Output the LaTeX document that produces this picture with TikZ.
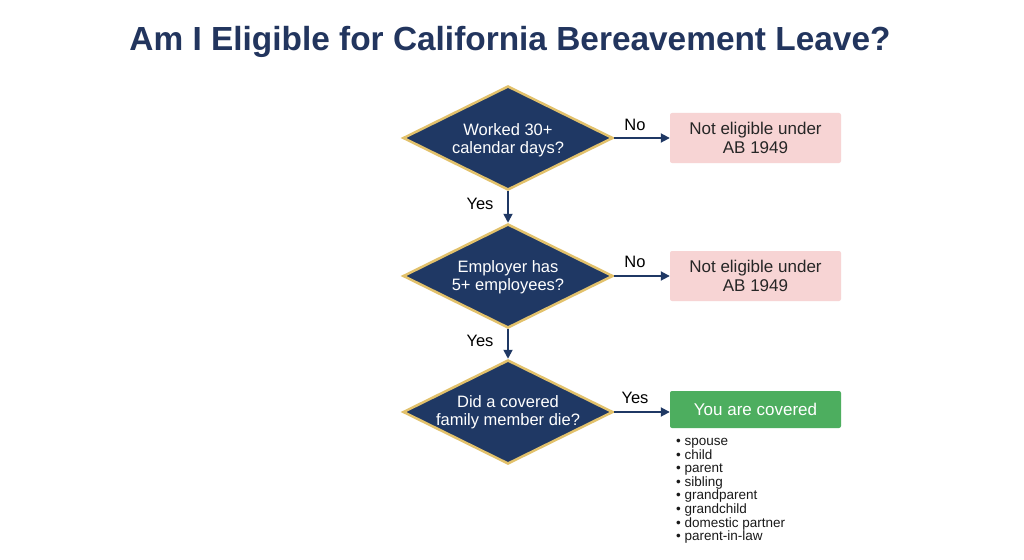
\documentclass[tikz,border=0pt]{standalone}
\usepackage{fontspec}
\setmainfont{Liberation Sans}
\usetikzlibrary{shapes.geometric,arrows.meta}
\definecolor{navy}{HTML}{1F3864}
\definecolor{gold}{HTML}{E2C16B}
\definecolor{pinkbox}{HTML}{F7D4D4}
\definecolor{greenbox}{HTML}{4DAE5F}
\definecolor{titlec}{HTML}{22355E}
\begin{document}
\begin{tikzpicture}[x=1pt,y=-1pt,
  decision/.style={diamond,draw=gold,line width=2.5pt,fill=navy,minimum width=210pt,minimum height=104pt,aspect=2.02,inner sep=0pt,text=white,font=\fontsize{16.5}{18.5}\selectfont,align=center},
  dtext/.style={text=white,font=\fontsize{16.5}{18.5}\selectfont,align=center},
  nobox/.style={rectangle,rounded corners=2pt,fill=pinkbox,minimum width=171pt,minimum height=50pt,text=black!85,font=\fontsize{17}{18.5}\selectfont,align=center},
  yesbox/.style={rectangle,rounded corners=2pt,fill=greenbox,minimum width=171pt,minimum height=37pt,text=white,font=\fontsize{17}{18}\selectfont,align=center},
  flow/.style={draw=navy,line width=1.8pt,-{Triangle[length=9pt,width=9pt]}},
  lbl/.style={font=\fontsize{16.5}{18}\selectfont,text=black},
  listtxt/.style={font=\fontsize{13.5}{13.6}\selectfont,align=left,text=black!90,anchor=north west,inner sep=0pt}]
\useasboundingbox (0,0) rectangle (1024,559);
\fill[white] (0,0) rectangle (1024,559);
\node[font=\bfseries\fontsize{33.4}{38}\selectfont,text=titlec] (title) at (510,42) {Am I Eligible for California Bereavement Leave?};

\node[decision] (d1) at (508,138) {};
\node[decision] (d2) at (508,276) {};
\node[decision] (d3) at (508,412) {};
\node[dtext] (t1) at (508,140) {Worked 30+\\calendar days?};
\node[dtext] (t2) at (508,277) {Employer has\\5+ employees?};
\node[dtext] (t3) at (508,412) {Did a covered\\family member die?};

\node[nobox] (n1) at (755.5,138) {Not eligible under\\AB 1949};
\node[nobox] (n2) at (755.5,276) {Not eligible under\\AB 1949};
\node[yesbox] (y3) at (755.5,409.5) {You are covered};

\draw[flow] (d1.east) -- (n1.west);
\draw[flow] (d2.east) -- (n2.west);
\draw[flow] (d3.east) -- (d3.east -| y3.west);
\draw[flow] (d1.south) -- (d2.north);
\draw[flow] (d2.south) -- (d3.north);

\node[lbl] (l1) at (635,125) {No};
\node[lbl] (l2) at (635,262) {No};
\node[lbl] (l3) at (635,398) {Yes};
\node[lbl] (l4) at (480,204) {Yes};
\node[lbl] (l5) at (480,341) {Yes};

\node[listtxt] (list) at (676,438) {\textbullet\ spouse\\ \textbullet\ child\\ \textbullet\ parent\\ \textbullet\ sibling\\ \textbullet\ grandparent\\ \textbullet\ grandchild\\ \textbullet\ domestic partner\\ \textbullet\ parent-in-law};
\end{tikzpicture}
\end{document}
